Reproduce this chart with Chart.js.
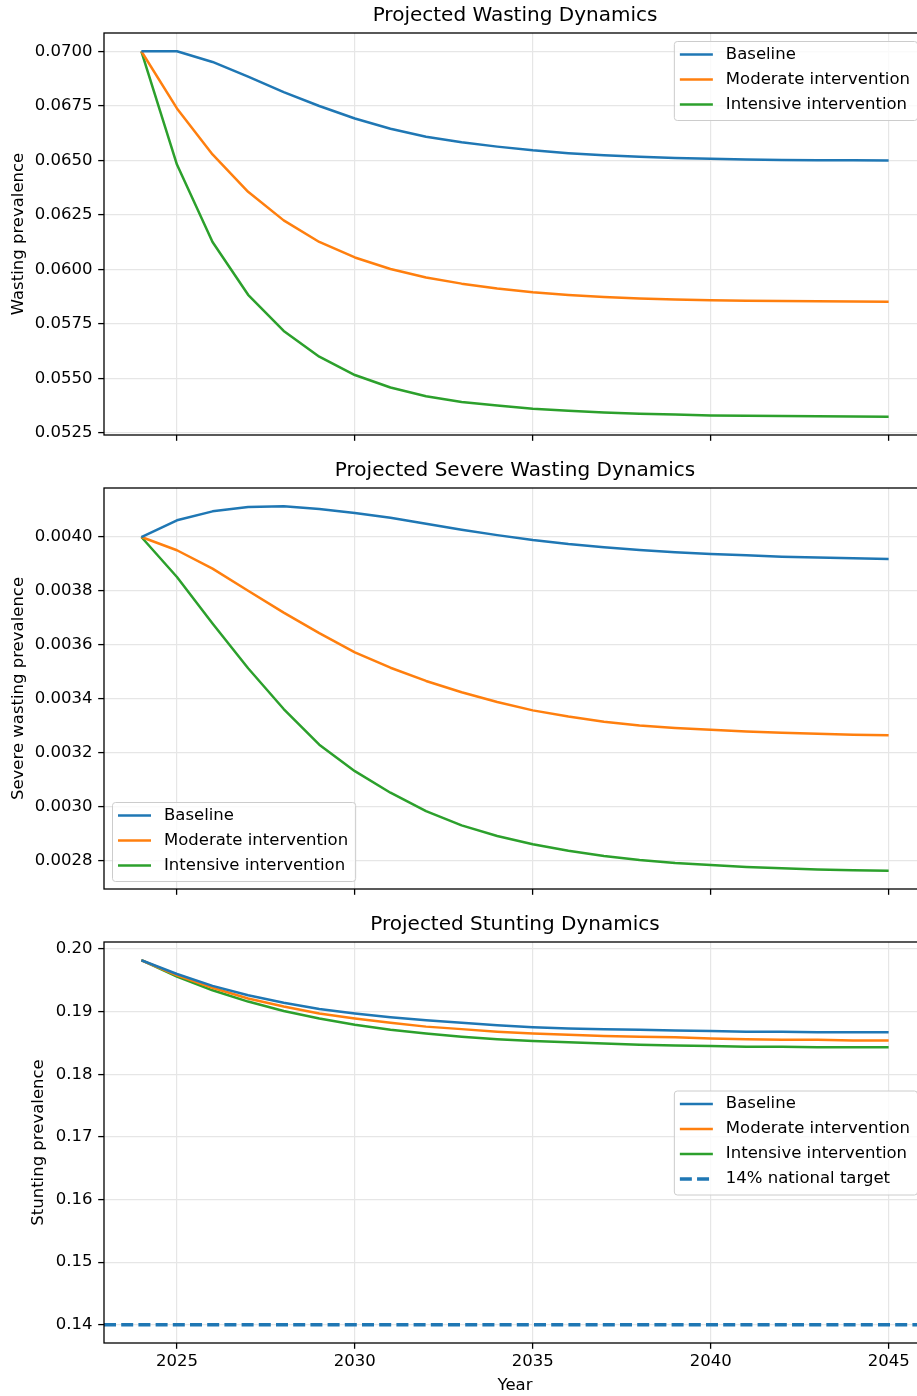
<!DOCTYPE html>
<html>
<head>
<meta charset="utf-8">
<script src="https://cdn.jsdelivr.net/npm/chart.js@4.4.1/dist/chart.umd.min.js"></script>
<style>
body { margin: 0; width: 917px; height: 1396px; overflow: hidden; background: #fff; }
.panel { position: absolute; left: 0; }
</style>
</head>
<body>
<div class="panel" style="top:0px"><canvas id="wasting" width="940" height="455"></canvas></div>
<div class="panel" style="top:455px"><canvas id="severe" width="940" height="455"></canvas></div>
<div class="panel" style="top:910px"><canvas id="stunting" width="940" height="486"></canvas></div>
<script>
// years of the projection
var years = [2024, 2025, 2026, 2027, 2028, 2029, 2030, 2031, 2032, 2033, 2034,
             2035, 2036, 2037, 2038, 2039, 2040, 2041, 2042, 2043, 2044, 2045];

// wasting prevalence
var wastBase = [0.0700, 0.0700, 0.06951, 0.06884, 0.06813, 0.06749, 0.06692, 0.06645, 0.06608, 0.06583, 0.06563,
                0.06546, 0.06533, 0.06523, 0.06516, 0.06511, 0.06507, 0.06504, 0.06502, 0.06501, 0.06500, 0.06499];
var wastMod  = [0.0700, 0.06738, 0.06527, 0.06356, 0.06225, 0.06126, 0.06055, 0.06002, 0.05963, 0.05935, 0.05913,
                0.05895, 0.05883, 0.05874, 0.05867, 0.05862, 0.05859, 0.05857, 0.05855, 0.05854, 0.05853, 0.05852];
var wastInt  = [0.0700, 0.06481, 0.06126, 0.05884, 0.05718, 0.05600, 0.05516, 0.05459, 0.05419, 0.05393, 0.05376,
                0.05362, 0.05352, 0.05344, 0.05339, 0.05335, 0.05331, 0.05329, 0.05328, 0.05327, 0.05326, 0.05325];

// severe wasting prevalence
var sevBase = [0.004000, 0.004062, 0.004095, 0.004111, 0.004114, 0.004104, 0.004089, 0.004071, 0.004049, 0.004027, 0.004007,
               0.003989, 0.003974, 0.003962, 0.003952, 0.003944, 0.003937, 0.003932, 0.003927, 0.003924, 0.003921, 0.003919];
var sevMod  = [0.004000, 0.003951, 0.003883, 0.003801, 0.003720, 0.003644, 0.003573, 0.003516, 0.003467, 0.003425, 0.003389,
               0.003358, 0.003335, 0.003316, 0.003302, 0.003293, 0.003286, 0.003280, 0.003275, 0.003271, 0.003268, 0.003266];
var sevInt  = [0.004000, 0.003852, 0.003680, 0.003514, 0.003363, 0.003231, 0.003133, 0.003053, 0.002985, 0.002932, 0.002893,
               0.002862, 0.002838, 0.002819, 0.002804, 0.002793, 0.002785, 0.002778, 0.002773, 0.002769, 0.002766, 0.002764];

// stunting prevalence
var stuntBase = [0.1982, 0.1960, 0.1941, 0.1926, 0.1914, 0.1904, 0.1897, 0.1891, 0.1886, 0.1882, 0.1878,
                 0.1875, 0.1873, 0.1872, 0.1871, 0.1870, 0.1869, 0.1868, 0.1868, 0.1867, 0.1867, 0.1867];
var stuntMod  = [0.1982, 0.1958, 0.1938, 0.1921, 0.1908, 0.1897, 0.1889, 0.1882, 0.1876, 0.1872, 0.1868,
                 0.1865, 0.1863, 0.1861, 0.1860, 0.1859, 0.1857, 0.1856, 0.1855, 0.1855, 0.1854, 0.1854];
var stuntInt  = [0.1982, 0.1956, 0.1934, 0.1916, 0.1901, 0.1889, 0.1879, 0.1871, 0.1865, 0.1860, 0.1856,
                 0.1853, 0.1851, 0.1849, 0.1847, 0.1846, 0.1845, 0.1844, 0.1844, 0.1843, 0.1843, 0.1843];
var stuntTarget = 0.14;

// tick labels
var xTicks = [2025, 2030, 2035, 2040, 2045];
var wastTicks = [0.0525, 0.0550, 0.0575, 0.0600, 0.0625, 0.0650, 0.0675, 0.0700];
var sevTicks = [0.0028, 0.0030, 0.0032, 0.0034, 0.0036, 0.0038, 0.0040];
var stuntTicks = [0.14, 0.15, 0.16, 0.17, 0.18, 0.19, 0.20];

var seriesNames = ["Baseline", "Moderate intervention", "Intensive intervention"];
var seriesColors = ["#1f77b4", "#ff7f0e", "#2ca02c"];

Chart.defaults.font.family = "'DejaVu Sans', sans-serif";
Chart.defaults.font.size = 16.5;
Chart.defaults.color = "#000";

// matplotlib style 5% margins
function pad(lo, hi) {
  var m = (hi - lo) * 0.05;
  return [lo - m, hi + m];
}
var xLim = pad(years[0], years[years.length - 1]);

function toPoints(vals) {
  return years.map(function (y, i) { return { x: y, y: vals[i] }; });
}

// top + right spines
var frame = {
  id: "frame",
  afterDatasetsDraw: function (chart) {
    var a = chart.chartArea, ctx = chart.ctx;
    ctx.save();
    ctx.strokeStyle = "#000";
    ctx.lineWidth = 1.3;
    ctx.strokeRect(a.left, a.top, a.right - a.left, a.bottom - a.top);
    ctx.restore();
  }
};

// legend drawn inside the axes
var boxLegend = {
  id: "boxLegend",
  afterDraw: function (chart, args, opts) {
    var ctx = chart.ctx, a = chart.chartArea;
    var sets = chart.data.datasets;
    ctx.save();
    ctx.font = "16.5px 'DejaVu Sans'";
    var tw = 0;
    sets.forEach(function (d) { tw = Math.max(tw, ctx.measureText(d.label).width); });
    var w = 52 + tw + 7, h = sets.length * 25 + 4;
    var x, y;
    if (opts.loc == "upper right") { x = a.right - 9 - w; y = a.top + 8; }
    else if (opts.loc == "lower left") { x = a.left + 8; y = a.bottom - 8 - h; }
    else { x = a.right - 9 - w; y = (a.top + a.bottom) / 2 - h / 2; }
    ctx.beginPath();
    ctx.roundRect(x + 0.5, y + 0.5, w, h, 3);
    ctx.fillStyle = "rgba(255,255,255,0.8)";
    ctx.fill();
    ctx.strokeStyle = "#cccccc";
    ctx.lineWidth = 1;
    ctx.stroke();
    sets.forEach(function (d, i) {
      var cy = y + 13.5 + i * 25;
      ctx.beginPath();
      ctx.setLineDash(d.borderDash || []);
      ctx.strokeStyle = d.borderColor;
      ctx.lineWidth = d.borderWidth;
      ctx.moveTo(x + 6, cy);
      ctx.lineTo(x + 39, cy);
      ctx.stroke();
      ctx.setLineDash([]);
      ctx.fillStyle = "#000";
      ctx.textBaseline = "middle";
      ctx.textAlign = "left";
      ctx.fillText(d.label, x + 52, cy);
    });
    ctx.restore();
  }
};

function makePanel(id, cfg) {
  var datasets = cfg.series.map(function (vals, i) {
    return {
      label: seriesNames[i],
      data: toPoints(vals),
      borderColor: seriesColors[i],
      backgroundColor: seriesColors[i],
      borderWidth: 2.5,
      borderJoinStyle: "round",
      pointRadius: 0,
      tension: 0
    };
  });
  var all = [].concat.apply([], cfg.series);
  if (cfg.target !== undefined) {
    datasets.push({
      label: "14% national target",
      data: [{ x: xLim[0], y: cfg.target }, { x: xLim[1], y: cfg.target }],
      borderColor: "#1f77b4",
      backgroundColor: "#1f77b4",
      borderWidth: 3.3,
      borderDash: [12, 5.2],
      pointRadius: 0
    });
    all.push(cfg.target);
  }
  var yLim = pad(Math.min.apply(null, all), Math.max.apply(null, all));

  return new Chart(document.getElementById(id), {
    type: "line",
    data: { datasets: datasets },
    options: {
      responsive: false,
      animation: false,
      devicePixelRatio: 1,
      layout: { padding: { left: 0, right: 14, top: 0, bottom: 0 } },
      plugins: {
        legend: { display: false },
        tooltip: { enabled: false },
        title: {
          display: true,
          fullSize: false,
          text: cfg.title,
          color: "#000",
          font: { size: 20, weight: "normal" },
          padding: { top: cfg.areaTop - 29, bottom: 5 }
        },
        boxLegend: { loc: cfg.legend }
      },
      scales: {
        x: {
          type: "linear",
          min: xLim[0],
          max: xLim[1],
          afterBuildTicks: function (s) { s.ticks = xTicks.map(function (v) { return { value: v }; }); },
          afterFit: function (s) { s.height = cfg.axisH; },
          border: { display: false },
          grid: { color: "#e6e6e6", lineWidth: 1.2, tickColor: "#000", tickWidth: 1.3, tickLength: 5.8 },
          ticks: {
            display: cfg.showX,
            padding: 3.3,
            color: "#000",
            maxRotation: 0,
            callback: function (v) { return String(v); }
          },
          title: { display: cfg.showX, text: "Year", color: "#000", padding: { top: 0, bottom: 0.2 } }
        },
        y: {
          min: yLim[0],
          max: yLim[1],
          afterBuildTicks: function (s) { s.ticks = cfg.yTicks.map(function (v) { return { value: v }; }); },
          afterFit: function (s) { s.width = 104; },
          border: { display: false },
          grid: { color: "#e6e6e6", lineWidth: 1.2, tickColor: "#000", tickWidth: 1.3, tickLength: 5.8 },
          ticks: {
            padding: 5.6,
            color: "#000",
            callback: function (v) { return v.toFixed(cfg.dec); }
          },
          title: { display: true, text: cfg.yLabel, color: "#000", padding: { top: cfg.yPad, bottom: 0 } }
        }
      }
    },
    plugins: [frame, boxLegend]
  });
}

makePanel("wasting", {
  title: "Projected Wasting Dynamics",
  series: [wastBase, wastMod, wastInt],
  yTicks: wastTicks, dec: 4,
  yLabel: "Wasting prevalence", yPad: 8.4,
  legend: "upper right",
  areaTop: 33, axisH: 20, showX: false
});

makePanel("severe", {
  title: "Projected Severe Wasting Dynamics",
  series: [sevBase, sevMod, sevInt],
  yTicks: sevTicks, dec: 4,
  yLabel: "Severe wasting prevalence", yPad: 8.4,
  legend: "lower left",
  areaTop: 33, axisH: 21, showX: false
});

makePanel("stunting", {
  title: "Projected Stunting Dynamics",
  series: [stuntBase, stuntMod, stuntInt],
  target: stuntTarget,
  yTicks: stuntTicks, dec: 2,
  yLabel: "Stunting prevalence", yPad: 28.4,
  legend: "center right",
  areaTop: 32, axisH: 53, showX: true
});
</script>
</body>
</html>
